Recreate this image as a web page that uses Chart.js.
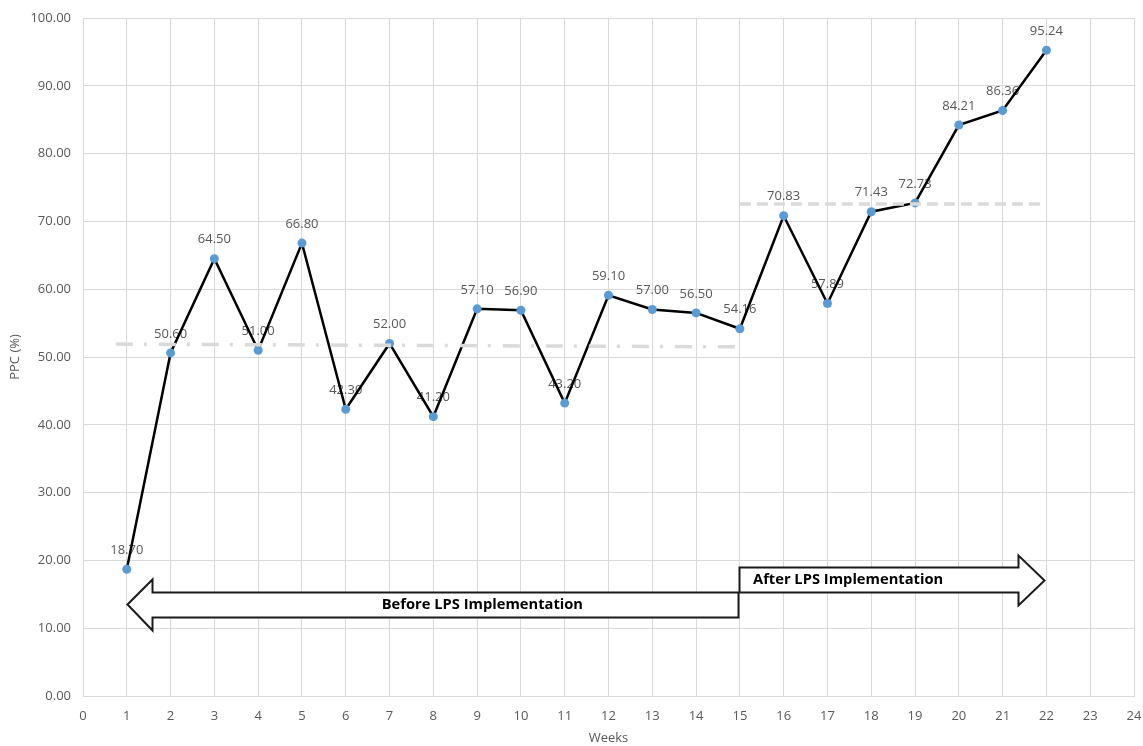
<!DOCTYPE html>
<html>
<head>
<meta charset="utf-8">
<title>PPC per week</title>
<script src="https://cdn.jsdelivr.net/npm/chart.js@4.4.1/dist/chart.umd.min.js"></script>
<style>
  html, body { margin: 0; padding: 0; background: #ffffff; }
  #wrap { width: 1143px; height: 746px; }
</style>
</head>
<body>
<div id="wrap"><canvas id="chart" width="1143" height="746"></canvas></div>
<script>
// Weekly Percent Plan Complete values
const weeks = [1, 2, 3, 4, 5, 6, 7, 8, 9, 10, 11, 12, 13, 14, 15, 16, 17, 18, 19, 20, 21, 22];
const ppc = [18.70, 50.60, 64.50, 51.00, 66.80, 42.30, 52.00, 41.20, 57.10, 56.90, 43.20,
             59.10, 57.00, 56.50, 54.16, 70.83, 57.89, 71.43, 72.73, 84.21, 86.36, 95.24];

// Average level lines for the two periods
const beforeMeanX = [0.75, 14.93];
const beforeMeanY = [51.9, 51.5];
const afterMeanX = [15.0, 21.96];
const afterMeanY = [72.57, 72.57];

// Axis ticks
const xTicks = [0, 24, 1];     // min, max, step
const yTicks = [0, 100, 10];   // min, max, step

// Period captions
const phaseLabels = ['Before LPS Implementation', 'After LPS Implementation'];

const FONT = '"Open Sans", "DejaVu Sans", sans-serif';
const TEXT_GREY = '#595959';
const GRID = '#d9d9d9';

// Block arrows, outlined in data units and converted through the scales
const phaseArrows = [
  {
    pts: [[1, 13.57], [1.57, 17.26], [1.57, 15.34], [14.96, 15.34], [14.96, 11.65],
          [1.57, 11.65], [1.57, 9.73]],
    text: phaseLabels[0], textX: 9.12, textY: 13.4, align: 'center'
  },
  {
    pts: [[14.98, 19.03], [21.36, 19.03], [21.36, 20.8], [21.95, 17.1], [21.36, 13.42],
          [21.36, 15.34], [14.98, 15.34]],
    text: phaseLabels[1], textX: 15.3, textY: 17.1, align: 'left'
  }
];

// Value captions sit beneath the line, just above each point
const valueLabels = {
  id: 'valueLabels',
  beforeDatasetsDraw(chart) {
    const ctx = chart.ctx;
    const meta = chart.getDatasetMeta(2);
    ctx.save();
    ctx.font = '13px ' + FONT;
    ctx.fillStyle = TEXT_GREY;
    ctx.textAlign = 'center';
    ctx.textBaseline = 'middle';
    meta.data.forEach((pt, i) => {
      ctx.fillText(ppc[i].toFixed(2), pt.x, pt.y - 19);
    });
    ctx.restore();
  }
};

const arrowShapes = {
  id: 'arrowShapes',
  afterDatasetsDraw(chart) {
    const ctx = chart.ctx;
    const xs = chart.scales.x, ys = chart.scales.y;
    ctx.save();
    phaseArrows.forEach(a => {
      ctx.beginPath();
      a.pts.forEach((p, i) => {
        const px = Math.round(xs.getPixelForValue(p[0])) + 0.5;
        const py = Math.round(ys.getPixelForValue(p[1])) + 0.5;
        if (i === 0) ctx.moveTo(px, py); else ctx.lineTo(px, py);
      });
      ctx.closePath();
      ctx.fillStyle = '#ffffff';
      ctx.fill();
      ctx.lineWidth = 2;
      ctx.lineJoin = 'miter';
      ctx.strokeStyle = '#1a1a1a';
      ctx.stroke();
    });
    phaseArrows.forEach(a => {
      ctx.font = 'bold 14.7px ' + FONT;
      ctx.fillStyle = '#000000';
      ctx.textAlign = a.align;
      ctx.textBaseline = 'middle';
      ctx.fillText(a.text, xs.getPixelForValue(a.textX), ys.getPixelForValue(a.textY));
    });
    ctx.restore();
  }
};

const toPoints = (xv, yv) => xv.map((x, i) => ({ x: x, y: yv[i] }));

new Chart(document.getElementById('chart'), {
  type: 'line',
  data: {
    datasets: [
      {
        data: toPoints(beforeMeanX, beforeMeanY),
        borderColor: '#dadada',
        borderWidth: 3.5,
        borderDash: [17, 11, 3, 12],
        borderCapStyle: 'butt',
        pointRadius: 0,
        order: 0
      },
      {
        data: toPoints(afterMeanX, afterMeanY),
        borderColor: '#dadada',
        borderWidth: 3.5,
        borderDash: [11, 6],
        borderCapStyle: 'butt',
        pointRadius: 0,
        order: 0
      },
      {
        data: toPoints(weeks, ppc),
        borderColor: '#000000',
        borderWidth: 2.5,
        pointRadius: 4.5,
        pointBackgroundColor: '#5b9bd5',
        pointBorderColor: '#5b9bd5',
        pointBorderWidth: 0,
        tension: 0,
        order: 1
      }
    ]
  },
  options: {
    responsive: false,
    animation: false,
    layout: { padding: { top: 18, right: 9, left: 0, bottom: 0 } },
    plugins: {
      legend: { display: false },
      tooltip: { enabled: false },
      title: { display: false }
    },
    scales: {
      x: {
        type: 'linear',
        min: xTicks[0],
        max: xTicks[1],
        afterFit: s => { s.height = 50; s.paddingLeft = 0; s.paddingRight = 0; },
        ticks: {
          stepSize: xTicks[2],
          color: TEXT_GREY,
          font: { family: FONT, size: 13 },
          padding: 12,
          maxRotation: 0
        },
        grid: { color: GRID, lineWidth: 1, drawTicks: false },
        border: { color: GRID },
        title: {
          display: true,
          text: 'Weeks',
          color: TEXT_GREY,
          font: { family: FONT, size: 13 },
          padding: { top: 0, bottom: 0 }
        }
      },
      y: {
        min: yTicks[0],
        max: yTicks[1],
        afterFit: s => { s.width = 83; s.paddingTop = 0; s.paddingBottom = 0; },
        ticks: {
          stepSize: yTicks[2],
          color: TEXT_GREY,
          font: { family: FONT, size: 13 },
          padding: 12,
          callback: v => Number(v).toFixed(2)
        },
        grid: { color: GRID, lineWidth: 1, drawTicks: false },
        border: { color: GRID },
        title: {
          display: true,
          text: 'PPC (%)',
          color: TEXT_GREY,
          font: { family: FONT, size: 13 },
          padding: { top: 7, bottom: 0 }
        }
      }
    }
  },
  plugins: [valueLabels, arrowShapes]
});
</script>
</body>
</html>
